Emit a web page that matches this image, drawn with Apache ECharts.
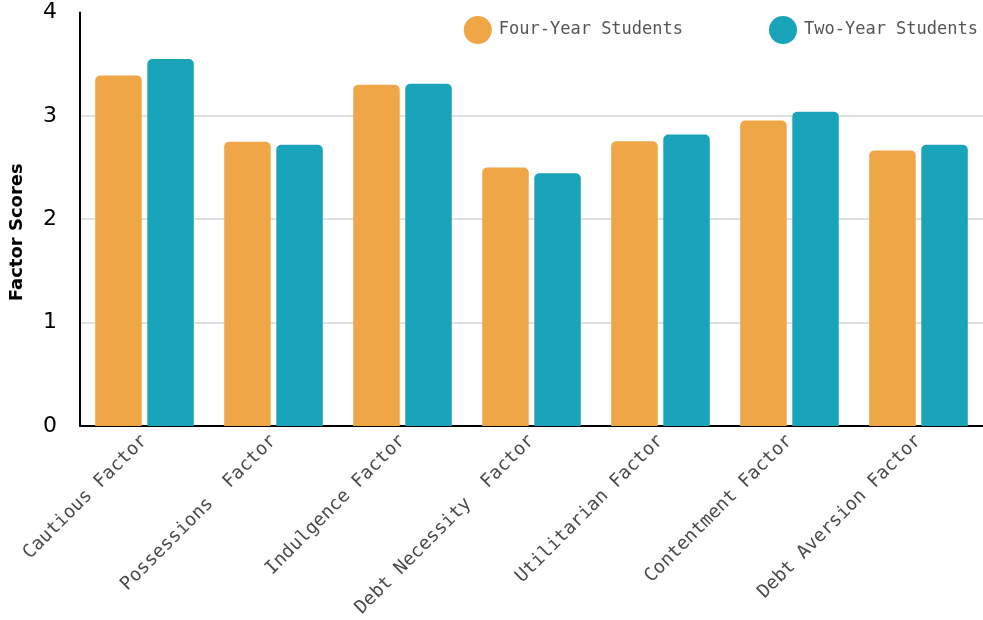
<!DOCTYPE html>
<html><head><meta charset="utf-8">
<script src="https://cdn.jsdelivr.net/npm/echarts@6/dist/echarts.min.js"></script>
<style>html,body{margin:0;padding:0;background:#fff}#c{width:983px;height:620px}</style>
</head><body><div id="c"></div>
<script>
const categories = ['Cautious Factor','Possessions  Factor','Indulgence Factor','Debt Necessity  Factor','Utilitarian Factor','Contentment Factor','Debt Aversion Factor'];
const fourYear = [3.39, 2.75, 3.30, 2.50, 2.755, 2.955, 2.665];
const twoYear = [3.55, 2.72, 3.31, 2.445, 2.82, 3.04, 2.72];
const seriesNames = ['Four-Year Students','Two-Year Students'];
const yTicks = [0,1,2,3,4];
const mono = '"DejaVu Sans Mono", monospace';
const chart = echarts.init(document.getElementById('c'));
chart.setOption({
  animation:false,
  textStyle:{fontFamily:mono},
  legend:{
    right:5, top:16, padding:0, itemWidth:28, itemHeight:28, itemGap:86, icon:'circle',
    textStyle:{fontFamily:mono, fontSize:17, color:'#555', padding:[0,0,0,2]},
    data:seriesNames
  },
  grid:{left:75, width:910, top:12.5, bottom:193.5, containLabel:false},
  xAxis:{
    type:'category', data:categories,
    axisLine:{lineStyle:{color:'#000', width:2}},
    axisTick:{show:false},
    axisLabel:{rotate:45, interval:0, fontFamily:mono, fontSize:18.5, color:'#4a4a4a', margin:12}
  },
  yAxis:{
    type:'value', min:yTicks[0], max:yTicks[yTicks.length-1], interval:1,
    name:'Factor Scores', nameLocation:'middle', nameGap:54,
    nameTextStyle:{fontFamily:'"DejaVu Sans", sans-serif', fontSize:18, fontWeight:'bold', color:'#000', padding:[0,26,0,0]},
    axisLine:{show:true, lineStyle:{color:'#000', width:2}},
    axisTick:{show:false},
    axisLabel:{fontFamily:'"DejaVu Sans", sans-serif', fontSize:22, color:'#000', margin:23},
    splitLine:{lineStyle:{color:['#e0e0e0','#e0e0e0','#e0e0e0','#e0e0e0','rgba(0,0,0,0)'], width:2}}
  },
  series:[
    {name:seriesNames[0], type:'bar', data:fourYear, barWidth:46.5, barGap:'12%',
     itemStyle:{color:'#EFA646', borderRadius:[5,5,0,0]}},
    {name:seriesNames[1], type:'bar', data:twoYear, barWidth:46.5,
     itemStyle:{color:'#1AA4BA', borderRadius:[5,5,0,0]}}
  ]
});
</script></body></html>
